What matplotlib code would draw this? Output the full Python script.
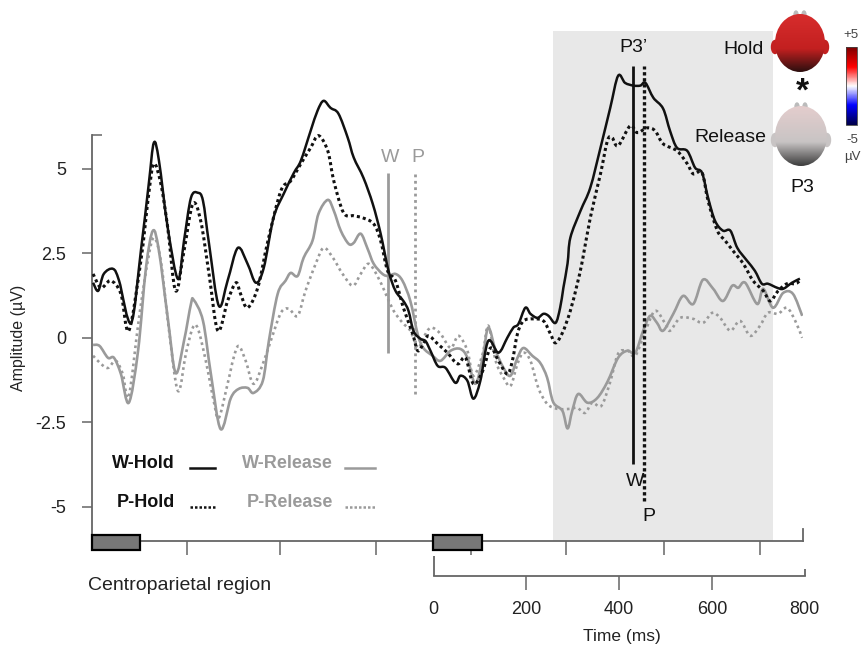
import numpy as np
import matplotlib
matplotlib.use("Agg")
import matplotlib.pyplot as plt
from matplotlib import font_manager
from matplotlib.patches import Ellipse, Rectangle, PathPatch
from matplotlib.path import Path

# --- data (time in ms, amplitude in uV) ---
w_hold_t = [-734, -723, -711, -691, -678, -652, -631, -614, -603, -592,
            -573, -551, -538, -523, -508, -497, -484, -463, -444, -422,
            -401, -383, -366, -345, -323, -301, -286, -265, -250, -237,
            -222, -205, -185, -172, -151, -131, -114, -97, -82, -65,
            -54, -43, -28, -17, -6, 9, 26, 47, 58, 73,
            86, 101, 118, 140, 159, 172, 183, 198, 209, 224,
            237, 248, 263, 273, 280, 289, 295, 317, 338, 360,
            381, 398, 413, 431, 446, 457, 474, 495, 510, 525,
            547, 564, 579, 592, 607, 624, 640, 655, 676, 693,
            708, 721, 741, 754, 773, 790]
w_hold_v = [1.63, 1.39, 1.89, 2.04, 1.69, 0.44, 2.57, 4.55, 5.77, 5.24,
            3.25, 1.74, 2.87, 4.14, 4.29, 4.05, 2.78, 0.95, 1.69, 2.66,
            2.19, 1.63, 2.07, 3.55, 4.26, 4.88, 5.24, 6.12, 6.72, 7.01,
            6.8, 6.63, 5.92, 5.33, 4.73, 3.96, 3.08, 1.98, 1.39, 1.09,
            0.8, 0.2, -0.03, -0.1, -0.4, -0.83, -0.89, -1.33, -1.12, -1.27,
            -1.8, -1.27, -0.09, -0.44, 0.0, 0.3, 0.41, 0.89, 0.71, 0.59,
            0.71, 0.65, 0.44, 0.89, 1.48, 2.2, 2.96, 3.76, 4.44, 5.62,
            6.8, 7.75, 7.54, 7.46, 7.46, 7.54, 7.1, 6.78, 6.12, 5.62,
            5.53, 5.03, 4.88, 4.14, 3.46, 3.17, 3.17, 2.66, 2.28, 1.98,
            1.6, 1.6, 1.48, 1.45, 1.63, 1.75]

p_hold_t = [-734, -717, -696, -674, -657, -631, -614, -603, -588, -573,
            -556, -538, -519, -502, -484, -465, -444, -426, -416, -401,
            -379, -357, -329, -308, -286, -265, -248, -228, -215, -194,
            -172, -153, -129, -114, -99, -82, -65, -45, -34, -22,
            -11, 9, 30, 52, 69, 86, 106, 123, 140, 159,
            170, 181, 194, 215, 237, 252, 263, 278, 295, 310,
            321, 338, 360, 375, 385, 398, 424, 439, 461, 478,
            495, 525, 547, 560, 579, 592, 612, 629, 646, 668,
            689, 711, 726, 743, 762, 780, 790]
p_hold_v = [1.89, 1.48, 1.69, 1.3, 0.21, 2.28, 4.26, 5.15, 4.56, 3.25,
            1.39, 2.57, 3.96, 3.46, 1.89, 0.21, 1.09, 1.63, 1.3, 0.89,
            1.48, 2.87, 4.35, 4.64, 5.15, 5.62, 5.98, 5.53, 4.64, 3.7,
            3.61, 3.55, 3.37, 2.87, 1.98, 1.69, 0.89, 0.12, -0.38, -0.18,
            0.06, -0.18, -0.44, -0.77, -0.59, -1.36, -0.98, -0.3, -0.68, -1.07,
            -0.68, 0.12, 0.5, 0.56, 0.5, 0.12, -0.15, 0.15, 0.8, 1.6,
            2.28, 3.55, 4.85, 5.83, 5.92, 5.68, 6.27, 6.07, 6.21, 6.12,
            5.74, 5.53, 5.15, 4.85, 4.88, 4.05, 3.17, 2.87, 2.57, 2.19,
            1.69, 1.39, 1.09, 1.39, 1.6, 1.6, 1.69]

w_rel_t = [-734, -720, -702, -689, -674, -657, -637, -620, -605, -592,
           -573, -556, -538, -523, -517, -497, -480, -459, -437, -420,
           -401, -388, -368, -355, -336, -319, -308, -293, -280, -261,
           -248, -228, -215, -200, -183, -172, -157, -142, -129, -110,
           -97, -82, -67, -50, -34, -22, -2, 15, 37, 58,
           73, 90, 106, 118, 134, 151, 166, 181, 194, 213,
           230, 245, 258, 278, 289, 299, 312, 332, 353, 375,
           398, 418, 435, 452, 467, 482, 495, 517, 538, 560,
           581, 603, 624, 644, 657, 672, 698, 711, 732, 754,
           775, 795]
w_rel_v = [-0.21, -0.24, -0.59, -0.59, -1.07, -1.92, -0.38, 2.07, 3.17, 2.57,
           0.59, -1.04, -0.09, 1.0, 1.12, 0.5, -1.07, -2.7, -1.78, -1.51,
           -1.48, -1.63, -1.27, -0.09, 1.3, 1.69, 1.92, 1.83, 2.37, 2.87,
           3.67, 4.08, 3.76, 3.17, 2.78, 2.81, 3.08, 2.63, 2.19, 1.89,
           1.83, 1.89, 1.69, 1.09, 0.1, -0.3, -0.53, -0.68, -0.38, -0.33,
           -0.59, -1.36, -0.59, 0.3, -0.38, -0.89, -1.12, -0.59, -0.3, -0.53,
           -0.74, -1.18, -1.9, -2.16, -2.68, -2.16, -1.66, -1.92, -1.78, -1.3,
           -0.59, -0.38, -0.44, 0.21, 0.65, 0.44, 0.21, 0.71, 1.24, 1.0,
           1.72, 1.45, 1.09, 1.54, 1.48, 1.63, 1.0, 1.45, 0.89, 1.33,
           1.3, 0.65]

p_rel_t = [-734, -717, -702, -685, -670, -657, -635, -616, -603, -588,
           -571, -551, -534, -519, -508, -491, -474, -463, -444, -431,
           -420, -405, -388, -368, -351, -329, -312, -293, -276, -254,
           -237, -217, -196, -174, -157, -140, -121, -103, -86, -67,
           -50, -34, -22, -6, 15, 37, 54, 73, 86, 106,
           118, 134, 151, 166, 181, 194, 209, 226, 245, 267,
           295, 310, 327, 342, 362, 381, 398, 418, 435, 457,
           478, 500, 510, 532, 560, 581, 601, 618, 640, 661,
           683, 704, 721, 743, 762, 780, 795]
p_rel_v = [-0.53, -0.77, -0.89, -0.68, -1.07, -1.72, 0.59, 2.28, 2.96, 2.28,
           0.3, -1.57, -0.47, 0.3, 0.27, -0.68, -1.86, -2.37, -1.36, -0.59,
           -0.24, -0.68, -1.36, -0.77, -0.09, 0.74, 0.86, 0.65, 1.39, 2.19,
           2.66, 2.37, 1.89, 1.54, 1.89, 2.19, 1.83, 1.3, 0.8, 0.45,
           0.21, -0.3, 0.0, 0.3, 0.12, -0.3, 0.06, -0.38, -1.12, -0.47,
           0.36, -0.68, -1.18, -1.42, -0.77, -0.44, -0.68, -1.48, -1.95, -2.1,
           -2.1, -2.07, -2.22, -1.92, -2.01, -1.3, -0.47, -0.38, -0.53, 0.21,
           0.8, 0.41, 0.21, 0.59, 0.56, 0.44, 0.74, 0.59, 0.21, 0.5,
           0.06, 0.36, 0.74, 0.71, 0.89, 0.5, 0.0]

y_ticks = [5, 2.5, 0, -2.5, -5]
y_ticklabels = ["5", "2.5", "0", "-2.5", "-5"]
epoch_ticks = [-532, -330, -125, 81, 285, 498, 704]
time_ticks = [0, 200, 400, 600, 800]
stim_boxes = [(-737, -633), (-2, 104)]
p3_window = (258, 731)
# response markers: (time, top, bottom)
rel_w_marker = (-98, 4.88, -0.44)
rel_p_marker = (-40, 4.88, -1.66)
hold_w_marker = (430, 8.05, -3.73)
hold_p_marker = (454, 8.05, -4.82)

names = {f.name for f in font_manager.fontManager.ttflist}
narrow = "Liberation Sans Narrow" if "Liberation Sans Narrow" in names else "Liberation Sans"
plt.rcParams["font.family"] = ["Liberation Sans", "DejaVu Sans"]

BLACK = "#111111"
GREY = "#9a9a9a"
AXC = "#666666"


def smooth_path(t, v):
    # curve through every sample (Catmull-Rom drawn as cubic Bezier segments)
    p = np.column_stack([t, v]).astype(float)
    ext = np.vstack([p[0], p, p[-1]])
    verts = [p[0]]
    codes = [Path.MOVETO]
    for i in range(1, len(ext) - 2):
        c1 = ext[i] + (ext[i + 1] - ext[i - 1]) / 6.0
        c2 = ext[i + 1] - (ext[i + 2] - ext[i]) / 6.0
        verts += [c1, c2, ext[i + 1]]
        codes += [Path.CURVE4] * 3
    return Path(verts, codes)


fig = plt.figure(figsize=(8.63, 6.45), dpi=100)
W, H = 863.0, 645.0

# main axes: x from -737 to 796 ms, y from -6 to 9.4 uV
ax = fig.add_axes([91.7 / W, (H - 540.7) / H, 711.0 / W, 520.7 / H])
ax.set_xlim(-737, 796)
ax.set_ylim(-6, 9.4)
ax.patch.set_visible(False)
for s in ["top", "right"]:
    ax.spines[s].set_visible(False)
ax.spines["left"].set_bounds(-6, 6)
ax.spines["left"].set_color(AXC)
ax.spines["left"].set_linewidth(1.3)
ax.spines["bottom"].set_color(AXC)
ax.spines["bottom"].set_linewidth(1.3)

ax.set_yticks(y_ticks)
ax.set_yticklabels(y_ticklabels, fontsize=13, color="#222222")
ax.tick_params(axis="y", direction="out", length=7.5, width=1.1, color=AXC, pad=11)
ax.set_yticks([6], minor=True)
ax.tick_params(axis="y", which="minor", direction="in", length=7.5, width=1.1, color=AXC)
ax.set_xticks(epoch_ticks)
ax.set_xticklabels([])
ax.tick_params(axis="x", direction="out", length=10, width=1.1, color=AXC)
ax.set_ylabel("Amplitude (\u00b5V)", fontsize=11.5, color="#222222")
ax.yaxis.set_label_coords(-0.093, 0.39)

# shaded P3 window
ax.fill_between(p3_window, -6, 9.08, color="#e8e8e8", lw=0, zorder=0)

# curves
series = [(w_rel_t, w_rel_v, GREY, 1.9, "-", 2),
          (p_rel_t, p_rel_v, GREY, 1.9, (0, (1, 1.3)), 2),
          (w_hold_t, w_hold_v, BLACK, 1.8, "-", 3),
          (p_hold_t, p_hold_v, BLACK, 2.2, (0, (1, 1)), 3)]
for t, v, col, lw, ls, z in series:
    ax.add_patch(PathPatch(smooth_path(t, v), fill=False, edgecolor=col,
                           lw=lw, ls=ls, zorder=z, joinstyle="round"))

# response time markers
ax.vlines(rel_w_marker[0], rel_w_marker[2], rel_w_marker[1], color=GREY, lw=2)
ax.vlines(rel_p_marker[0], rel_p_marker[2], rel_p_marker[1], color=GREY, lw=2, linestyles=(0, (1, 1.3)))
ax.vlines(hold_w_marker[0], hold_w_marker[2], hold_w_marker[1], color=BLACK, lw=2)
ax.vlines(hold_p_marker[0], hold_p_marker[2], hold_p_marker[1], color=BLACK, lw=2.4, linestyles=(0, (1, 0.8)))
ax.text(-94, 5.33, "W", color=GREY, fontsize=14, ha="center", va="center")
ax.text(-33, 5.33, "P", color=GREY, fontsize=14, ha="center", va="center")
ax.text(430, 8.6, "P3\u2019", color=BLACK, fontsize=14, ha="center", va="center")
ax.text(434, -4.26, "W", color=BLACK, fontsize=14, ha="center", va="center")
ax.text(465, -5.27, "P", color=BLACK, fontsize=14, ha="center", va="center")

# stimulus boxes on the baseline
for a, b in stim_boxes:
    ax.add_patch(Rectangle((a, -6.27), b - a, 0.44, facecolor="#777777",
                           edgecolor="black", lw=1.6, clip_on=False, zorder=5))
ax.axvline(796, ymin=0, ymax=0.35 / 15.4, color=AXC, lw=1.3, clip_on=False)

# legend drawn inside plot
leg_rows = [("W-Hold", BLACK, "-", -3.73, -557, (-525, -471)),
            ("P-Hold", BLACK, (0, (1, 0.8)), -4.88, -557, (-525, -471)),
            ("W-Release", GREY, "-", -3.73, -217, (-191, -126)),
            ("P-Release", GREY, (0, (1, 0.8)), -4.88, -217, (-191, -126))]
for lab, col, ls, yv, xr, seg in leg_rows:
    ax.text(xr, yv, lab, color=col, fontsize=13, fontweight="bold",
            family=narrow, ha="right", va="center")
    ax.plot(seg, [yv - 0.12, yv - 0.12], color=col, lw=1.8, ls=ls)

# time ruler below
ax2 = fig.add_axes([91.7 / W, (H - 576) / H, 715.2 / W, 20 / H])
ax2.set_xlim(-737, 805)
ax2.set_ylim(0, 1)
ax2.patch.set_visible(False)
for s in ["top", "right", "left"]:
    ax2.spines[s].set_visible(False)
ax2.spines["bottom"].set_bounds(0, 800)
ax2.spines["bottom"].set_color(AXC)
ax2.spines["bottom"].set_linewidth(1.3)
ax2.set_yticks([])
ax2.set_xticks(time_ticks)
ax2.set_xticklabels([str(t) for t in time_ticks], fontsize=13, family=narrow, color="#222222")
ax2.tick_params(axis="x", direction="out", length=10, width=1.1, color=AXC, pad=8)
ticks = ax2.xaxis.get_major_ticks()
ticks[0].tick1line.set_visible(False)
ticks[-1].tick1line.set_visible(False)
ax2.vlines(0, 0, 1, color=AXC, lw=1.3, clip_on=False)
ax2.vlines(800, 0, 0.35, color=AXC, lw=1.3, clip_on=False)

fig.text(622 / W, (H - 636) / H, "Time (ms)", fontsize=12.5, family=narrow,
         ha="center", va="center", color="#222222")
fig.text(88 / W, (H - 586) / H, "Centroparietal region", fontsize=14,
         ha="left", va="center", color="#222222")

# topographic maps and colour scale (decoration, pixel overlay)
ov = fig.add_axes([0, 0, 1, 1])
ov.set_xlim(0, W)
ov.set_ylim(H, 0)
ov.axis("off")


def head(cx, cy, w, h, top, mid, bot):
    n = 100
    f = np.linspace(0, 1, n)[:, None]
    top, mid, bot = (np.array(c) / 255.0 for c in (top, mid, bot))
    col = np.where(f < 0.6, top + (mid - top) * (f / 0.6),
                   mid + (bot - mid) * ((f - 0.6) / 0.4))
    img = col[:, None, :].repeat(2, axis=1)
    for ex in (cx - w / 2, cx + w / 2):
        ov.add_patch(Ellipse((ex, cy + 4), 7, 13, color=mid))
    for nx in (cx - 4, cx + 4):
        ov.add_patch(Ellipse((nx, cy - h / 2 + 1), 4, 8, color="#bbbbbb"))
    el = Ellipse((cx, cy), w, h, facecolor="none", edgecolor="none")
    ov.add_patch(el)
    im = ov.imshow(img, extent=(cx - w / 2, cx + w / 2, cy + h / 2, cy - h / 2),
                   aspect="auto", origin="upper", zorder=3)
    im.set_clip_path(el)


head(800, 43, 50, 58, (215, 45, 45), (195, 32, 32), (45, 15, 15))
head(801, 136, 52, 60, (228, 205, 205), (200, 196, 196), (60, 60, 60))
ov.text(802, 92, "*", fontsize=24, fontweight="bold", ha="center", va="center", color=BLACK)
ov.text(802, 188, "P3", fontsize=14, ha="center", va="center", color=BLACK)
ov.text(764, 49, "Hold", fontsize=14, ha="right", va="center", color=BLACK)
ov.text(766, 138, "Release", fontsize=14, ha="right", va="center", color=BLACK)

grad = np.linspace(1, 0, 60)[:, None]
ov.imshow(grad, extent=(846, 857, 125, 47), cmap="seismic", aspect="auto", origin="upper", zorder=3)
ov.add_patch(Rectangle((846, 47), 11, 78, fill=False, edgecolor="#444444", lw=0.6, zorder=4))
ov.text(851, 35, "+5", fontsize=9.5, ha="center", va="center", color="#444444")
ov.text(852, 140, "-5", fontsize=9.5, ha="center", va="center", color="#444444")
ov.text(852, 157, "\u00b5V", fontsize=9.5, ha="center", va="center", color="#444444")

fig.savefig("out.png", dpi=100)
